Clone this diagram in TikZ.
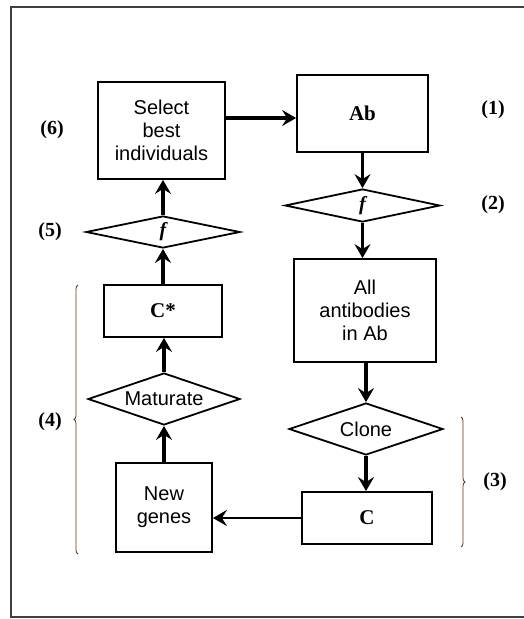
\documentclass[tikz,border=0pt]{standalone}
\usepackage{fontspec}
\setmainfont{Liberation Serif}
\setsansfont{Liberation Sans}
\usetikzlibrary{shapes.geometric,arrows.meta,decorations.pathreplacing,calc}
\begin{document}
\begin{tikzpicture}[x=1pt,y=-1pt,
  box/.style={draw,line width=1.8pt,inner sep=0pt,align=center,font=\fontsize{20}{23}\selectfont\sffamily},
  bbox/.style={draw,line width=1.8pt,inner sep=0pt,align=center,font=\fontsize{21}{23}\selectfont\bfseries},
  dia/.style={draw,diamond,shape aspect=3,line width=1.8pt,inner sep=0pt,align=center,font=\fontsize{20}{23}\selectfont\sffamily},
  arr/.style={line width=3.4pt,-{Stealth[length=14pt,width=16pt,inset=5pt]}},
  thinarr/.style={line width=2.4pt,-{Stealth[length=14pt,width=16pt,inset=5pt]}},
  lbl/.style={font=\fontsize{20}{23}\selectfont\bfseries},
  brc/.style={decorate,decoration={brace,amplitude=4pt},line width=0.8pt,draw=black!55!brown}
]
\useasboundingbox (0,0) rectangle (524,619);
\draw[line width=2pt,draw=black!75] (524,7) -- (11,7) -- (11,617) -- (524,617);

\node[box,minimum width=127pt,minimum height=97pt] (sel) at (161.5,130.5) {Select\\best\\individuals};
\node[bbox,minimum width=131pt,minimum height=77pt] (ab) at (362.5,113.5) {Ab};
\node[dia,minimum width=155pt,minimum height=33pt] (f1) at (362.5,205.5) {\rmfamily\bfseries\itshape f};
\node[dia,minimum width=154pt,minimum height=32pt] (f2) at (163,232) {\rmfamily\bfseries\itshape f};
\node[box,minimum width=142pt,minimum height=103pt] (all) at (365,310.5) {All\\antibodies\\in Ab};
\node[bbox,minimum width=118pt,minimum height=52pt] (cstar) at (163,311) {C*};
\node[dia,minimum width=152pt,minimum height=52pt] (mat) at (164,399) {Maturate};
\node[dia,minimum width=154pt,minimum height=52pt] (clone) at (366,429) {Clone};
\node[box,minimum width=96pt,minimum height=89pt] (newg) at (164,507.5) {New\\genes};
\node[bbox,minimum width=130pt,minimum height=52pt] (c) at (367,518) {C};

\draw[arr] ([yshift=-4.5pt]sel.east |- ab.west) -- ([yshift=-4.5pt]ab.west);
\draw[arr] (ab.south) -- (f1.north);
\draw[arr] (f1.south) -- (f1.south |- all.north);
\draw[arr] (all.south -| clone.north) -- (clone.north);
\draw[arr] (clone.south) -- (clone.south |- c.north);
\draw[thinarr] (c.west) -- (c.west -| newg.east);
\draw[arr] (newg.north) -- (mat.south);
\draw[arr] (mat.north) -- (mat.north |- cstar.south);
\draw[arr] (cstar.north) -- (cstar.north |- f2.south);
\draw[arr] (f2.north) -- (f2.north |- sel.south);

\draw[brc] (78,554) -- (78,285);
\draw[brc] (461,417) -- (461,547);

\node[lbl] (l1) at (493,110) {(1)};
\node[lbl] (l2) at (493,205) {(2)};
\node[lbl] (l6) at (52,130) {(6)};
\node[lbl] (l5) at (50,232) {(5)};
\node[lbl] (l4) at (50,422) {(4)};
\node[lbl] (l3) at (495,482) {(3)};
\end{tikzpicture}
\end{document}
